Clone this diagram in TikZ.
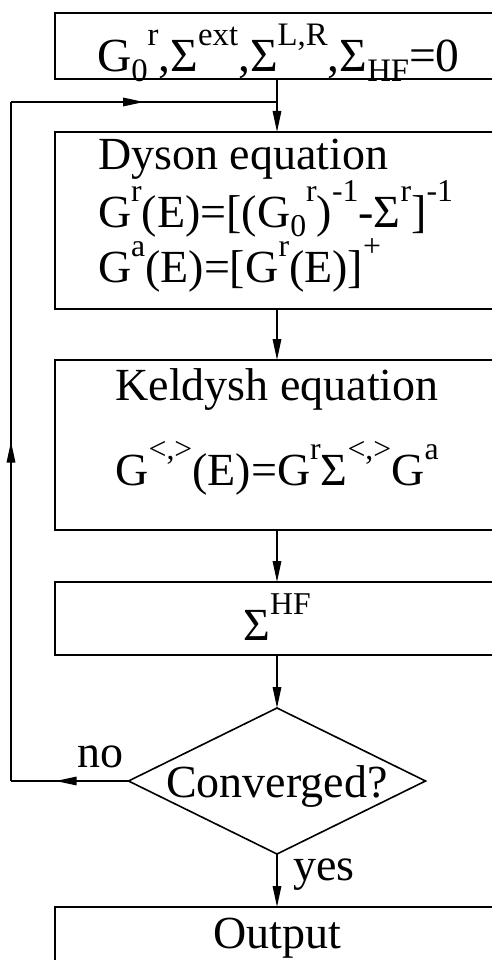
\documentclass[tikz,border=0pt]{standalone}
\usepackage{fontspec}
\setmainfont{Liberation Serif}
\usetikzlibrary{arrows.meta,shapes.geometric,decorations.markings}
\newcommand\SUP[1]{\raisebox{0.56em}{\scalebox{0.69}{#1}}}
\newcommand\SUB[1]{\raisebox{-0.2em}{\scalebox{0.69}{#1}}}
\tikzset{
  x=1pt, y=-1pt,
  box/.style={draw, line width=1.6pt, minimum width=444pt, inner sep=0pt, outer sep=0pt},
  txt/.style={inner sep=0pt, outer sep=0pt, font=\fontsize{46}{52.5}\selectfont},
  bigtxt/.style={inner sep=0pt, outer sep=0pt, font=\fontsize{47.5}{58}\selectfont},
  conn/.style={line width=1.6pt},
  tip/.style={-{Triangle[length=21pt,width=8.5pt]}},
  midarrow/.style={postaction={decorate, decoration={markings,
      mark=at position #1 with {\arrow{Triangle[length=21pt,width=8.5pt]}}}}}
}
\begin{document}
\begin{tikzpicture}
\useasboundingbox (0,0) rectangle (491,960);
% boxes
\node[box, minimum height=66pt] (init) at (277,46) {};
\node[box, minimum height=177pt] (dyson) at (277,220.5) {};
\node[box, minimum height=170pt] (keld) at (277,445) {};
\node[box, minimum height=73pt] (hf) at (277,618.5) {};
\node[draw, line width=1.6pt, diamond, minimum width=297pt, minimum height=146pt, inner sep=0pt, outer sep=0pt] (conv) at (277,781) {};
\node[box, minimum height=93pt] (out) at (277,953.5) {};
% texts
\node[bigtxt, anchor=base west] (t0) at (97,72) {G\SUB{0}\SUP{r},Σ\SUP{ext},Σ\SUP{L,R},Σ\SUB{HF}=0};
\node[txt, anchor=base west, align=left] (dtext) at (98,282) {Dyson equation\\
G\SUP{r}(E)=[(G\SUB{0}\SUP{r})\SUP{-1}-Σ\SUP{r}]\SUP{-1}\\
G\SUP{a}(E)=[G\SUP{r}(E)]\SUP{+}};
\node[txt, anchor=base, align=center] (ktext) at (277,485) {Keldysh equation\\[29.5pt]
G\SUP{<,>}(E)=G\SUP{r}Σ\SUP{<,>}G\SUP{a}};
\node[txt, anchor=base] (h1) at (277,640) {Σ\SUP{HF}};
\node[txt, anchor=base] (c1) at (277,797) {Converged?};
\node[txt, anchor=base west] (no) at (77,767) {no};
\node[txt, anchor=base west] (yes) at (293,880) {yes};
\node[txt, anchor=base] (o1) at (277,948) {Output};
% loop coordinates
\coordinate (lb) at (11,781);
\coordinate (lt) at (11,102);
\coordinate (jn) at (277,102);
% connectors
\draw[conn, tip] (init.south) -- (dyson.north);
\draw[conn, tip] (dyson.south) -- (keld.north);
\draw[conn, tip] (keld.south) -- (hf.north);
\draw[conn, tip] (hf.south) -- (conv.north);
\draw[conn, tip] (conv.south) -- (out.north);
\draw[conn, midarrow=0.62] (conv.west) -- (lb);
\draw[conn, midarrow=0.5] (lb) -- (lt);
\draw[conn, midarrow=0.5] (lt) -- (jn);
\end{tikzpicture}
\end{document}
